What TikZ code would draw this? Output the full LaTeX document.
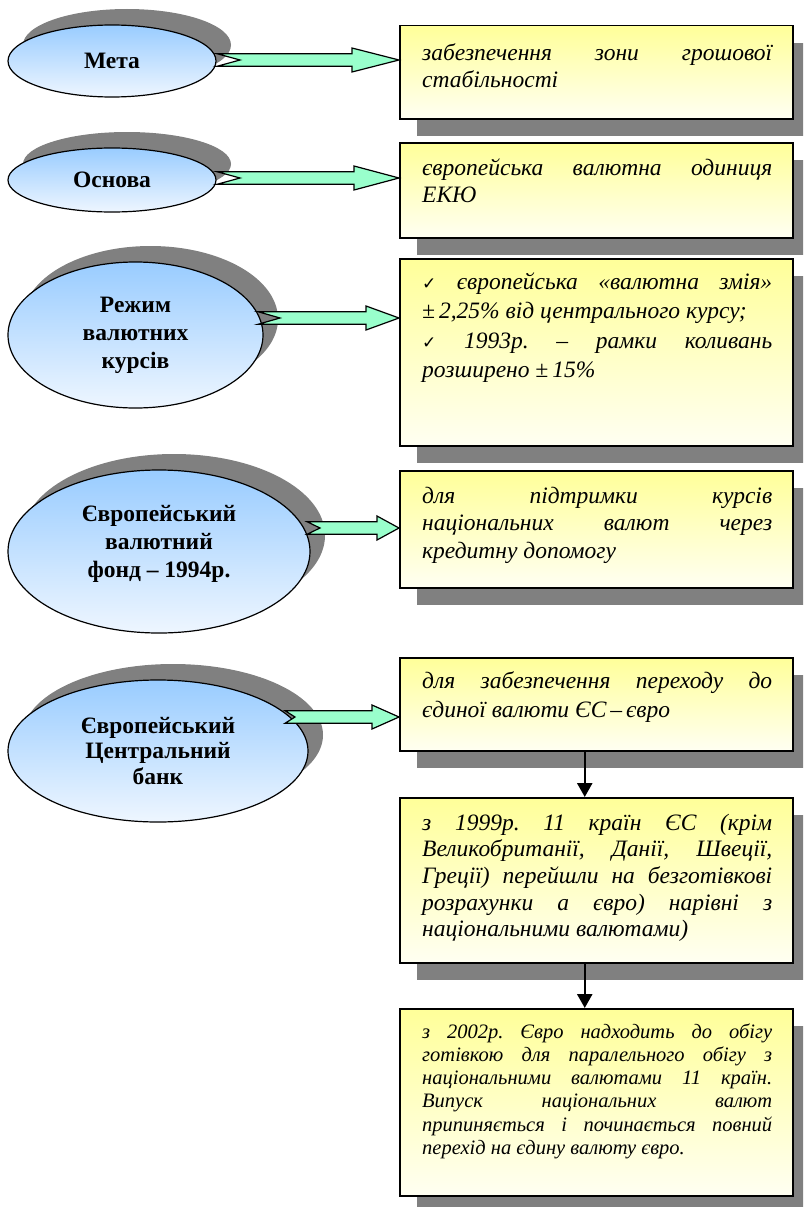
\documentclass[tikz,border=0pt]{standalone}
\usepackage{fontspec}
\setmainfont{Liberation Serif}
\newfontfamily\symfont{DejaVu Sans}
\usetikzlibrary{shapes.geometric,shadows,calc,arrows.meta}
\definecolor{shadowgray}{HTML}{808080}
\definecolor{elltop}{HTML}{99CCFF}
\definecolor{ellbot}{HTML}{EEF6FF}
\definecolor{boxtop}{HTML}{FFFF99}
\definecolor{boxbot}{HTML}{FFFFF2}
\definecolor{arrgreen}{HTML}{99FFCC}
\frenchspacing
\newlength\textw
\setlength\textw{350pt}
\newcommand\jl[1]{\leavevmode\hbox to \textw{\spaceskip=\fontdimen2\font plus 1fil\relax\xspaceskip=\spaceskip #1}}
\newcommand\nsp{\spaceskip=\fontdimen2\font\relax\xspaceskip=\spaceskip}
\newcommand\chk{{\symfont\fontsize{17}{17}\selectfont ✓}}
\newcommand\narrow[4]{%
  \coordinate (tip) at (#2.west |- #1);
  \draw[arr] ($(#1)+(0,-6.3)$) -- ($(tip)+(-#4,-6.3)$) -- ($(tip)+(-#4,-12)$) -- (tip)
    -- ($(tip)+(-#4,12)$) -- ($(tip)+(-#4,6.3)$) -- ($(#1)+(0,6.3)$) -- ($(#1)+(#3,0)$) -- cycle;}
\tikzset{
  ell/.style={ellipse, draw=black, line width=1.2pt, top color=elltop, bottom color=ellbot,
    inner sep=0pt, align=center, font=\fontsize{23.5}{28}\selectfont\bfseries,
    drop shadow={shadow xshift=15pt, shadow yshift=16pt, fill=shadowgray, opacity=1}},
  boxr/.style={rectangle, draw=black, line width=1.5pt, top color=boxtop, bottom color=boxbot,
    inner sep=0pt, anchor=north west, minimum width=393pt,
    drop shadow={shadow xshift=17pt, shadow yshift=-17pt, fill=shadowgray, opacity=1}},
  txt/.style={anchor=base west, text width=350pt, inner sep=0pt,
    font=\fontsize{23.5}{27}\selectfont\itshape},
  arr/.style={draw=black, line width=1.2pt, fill=arrgreen, line join=miter},
  varr/.style={draw=black, line width=2.5pt, -{Triangle[width=15pt,length=14pt]}}
}
\begin{document}
\begin{tikzpicture}[x=1pt,y=-1pt]
\useasboundingbox (0,0) rectangle (803,1207);
\clip (0,0) rectangle (803,1207);
% boxes
\node[boxr, minimum height=93pt] (b1) at (399,25) {};
\node[boxr, minimum height=95pt] (b2) at (399,142) {};
\node[boxr, minimum height=187pt] (b3) at (399,258) {};
\node[boxr, minimum height=117pt] (b4) at (399,470) {};
\node[boxr, minimum height=93pt] (b5) at (399,657) {};
\node[boxr, minimum height=165pt] (b6) at (399,797) {};
\node[boxr, minimum height=187pt] (b7) at (399,1008) {};
% box texts
\node[txt] (t1) at ($(b1.north west)+(23,35)$) {\jl{забезпечення зони грошової}\\\nsp стабільності};
\node[txt] (t2) at ($(b2.north west)+(23,33)$) {\jl{європейська валютна одиниця}\\\nsp ЕКЮ};
\node[txt, font=\fontsize{23.5}{29.5}\selectfont\itshape] (t3) at ($(b3.north west)+(23,31)$)
  {\jl{\chk{} європейська «валютна змія»}\\\nsp ±\,2,25\% від центрального курсу;\\\jl{\chk{} 1993р. – рамки коливань}\\\nsp розширено ±\,15\%};
\node[txt, font=\fontsize{23.5}{27.5}\selectfont\itshape] (t4) at ($(b4.north west)+(23,33)$)
  {\jl{для підтримки курсів}\\\jl{національних валют через}\\\nsp кредитну допомогу};
\node[txt, font=\fontsize{23.5}{29}\selectfont\itshape] (t5) at ($(b5.north west)+(23,31)$)
  {\jl{для забезпечення переходу до}\\\nsp єдиної валюти ЄС\,–\,євро};
\node[txt, font=\fontsize{23.5}{26.7}\selectfont\itshape] (t6) at ($(b6.north west)+(23,33)$)
  {\jl{з 1999р. 11 країн ЄС (крім}\\\jl{Великобританії, Данії, Швеції,}\\\jl{Греції) перейшли на безготівкові}\\\jl{розрахунки а євро) нарівні з}\\\nsp національними валютами)};
\node[txt, font=\fontsize{20.5}{23.3}\selectfont\itshape] (t7) at ($(b7.north west)+(23,30)$)
  {\jl{з 2002р. Євро надходить до обігу}\\\jl{готівкою для паралельного обігу з}\\\jl{національними валютами 11 країн.}\\\jl{Випуск національних валют}\\\jl{припиняється і починається повний}\\\nsp перехід на єдину валюту євро.};
% ellipses
\node[ell, minimum width=208pt, minimum height=72pt] (e1) at (112,61) {Мета};
\node[ell, minimum width=208pt, minimum height=64pt] (e2) at (112,180) {Основа};
\node[ell, minimum width=255pt, minimum height=146pt] (e3) at (135.5,335) {Режим\\валютних\\курсів};
\node[ell, minimum width=302pt, minimum height=163pt] (e4) at (159,551.5) {Європейський\\валютний\\фонд – 1994р.\\[-8pt]\mbox{}};
\node[ell, minimum width=300pt, minimum height=142pt, font=\fontsize{23.5}{25.5}\selectfont\bfseries] (e5) at (158,751) {Європейський\\Центральний\\банк};
% notched arrows
\coordinate (a1) at (217,60);
\coordinate (a2) at (217,178);
\coordinate (a3) at (258,318);
\coordinate (a4) at (307,528);
\coordinate (a5) at (285,717);
\narrow{a1}{b1}{23}{47}
\narrow{a2}{b2}{23}{45}
\narrow{a3}{b3}{22}{33}
\narrow{a4}{b4}{13}{22}
\narrow{a5}{b5}{10}{27}
% vertical arrows
\draw[varr] ([xshift=-11.5pt]b5.south) -- ([xshift=-11.5pt]b6.north);
\draw[varr] ([xshift=-11.5pt]b6.south) -- ([xshift=-11.5pt]b7.north);
\end{tikzpicture}
\end{document}
